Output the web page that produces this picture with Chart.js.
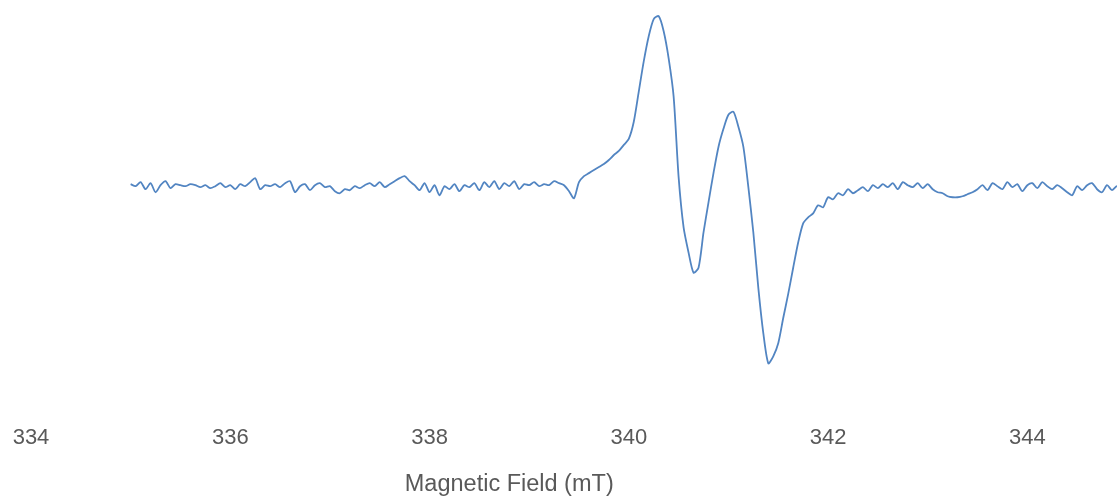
<!DOCTYPE html>
<html>
<head>
<meta charset="utf-8">
<script src="https://cdn.jsdelivr.net/npm/chart.js@4"></script>
<style>
  html, body { margin: 0; padding: 0; background: #fff; }
  #chart { display: block; }
</style>
</head>
<body>
<canvas id="chart" width="1117" height="498"></canvas>
<script>
// field sweep: first point and spacing (mT)
const fieldStart = 335.0;
const fieldStep = 0.05;

// EPR signal, arbitrary units (0 = baseline)
const signal = [
  3, 1, 5, -2, 4, -5, 2, 6, -1, 3,
  2, 1, 3, 2, 0, 2, -1, 1, 4, 0,
  2, -2, 3, 1, 5, 9, -2, 2, 1, 3,
  0, 4, 6, -5, 1, 3, -3, 2, 4, 0,
  1, -4, -6, -2, -3, 1, -1, 2, 4, 1,
  5, 0, 3, 6, 9, 11, 6, 2, -3, 4,
  -5, 2, -8, 1, -2, 3, -4, 2, 0, 4,
  -3, 5, 0, 6, -2, 4, 1, 6, -2, 3,
  2, 5, 1, 3, 2, 6, 4, 2, -4, -11,
  5, 11, 14, 17, 20, 23, 27, 32, 36, 42,
  48, 65, 95, 125, 150, 167, 170, 155, 128, 90,
  10, -40, -65, -85, -80, -45, -15, 14, 40, 58,
  72, 75, 60, 40, 0, -45, -100, -145, -175, -168,
  -155, -130, -106, -80, -55, -36, -30, -26, -18, -20,
  -10, -12, -6, -8, -2, -6, -3, 0, -4, 2,
  -1, 3, 0, 4, -2, 5, 2, 0, 4, -1,
  3, -2, -5, -6, -9, -10, -10, -9, -7, -5,
  -2, 2, -3, 4, 1, -2, 5, 0, 3, -4,
  2, 4, -1, 5, 1, -2, 2, -1, -5, -8,
  1, -3, 2, 4, -2, -5, 2, -3, 1, -4,
  0
];

const xTicks = [334, 336, 338, 340, 342, 344];
const xTitle = 'Magnetic Field (mT)';

const points = signal.map((v, i) => ({ x: +(fieldStart + i * fieldStep).toFixed(2), y: v }));

const textColor = '#595959';
const fontFamily = "'Liberation Sans', Arial, sans-serif";

// axis title sits off-centre in the original, drawn under the x scale
const xTitlePlugin = {
  id: 'xTitle',
  afterDraw(chart) {
    const ctx = chart.ctx;
    const xs = chart.scales.x;
    ctx.save();
    ctx.font = '23.5px ' + fontFamily;
    ctx.fillStyle = textColor;
    ctx.textAlign = 'center';
    ctx.textBaseline = 'middle';
    ctx.fillText(xTitle, xs.getPixelForValue(338.8), 485);
    ctx.restore();
  }
};

new Chart(document.getElementById('chart'), {
  type: 'line',
  data: {
    datasets: [{
      data: points,
      borderColor: '#5285c2',
      borderWidth: 1.8,
      pointRadius: 0,
      tension: 0.25,
      fill: false
    }]
  },
  options: {
    responsive: false,
    animation: false,
    layout: { padding: { left: 31, right: 0, top: 0, bottom: 37 } },
    plugins: { legend: { display: false }, tooltip: { enabled: false } },
    scales: {
      x: {
        type: 'linear',
        min: 334,
        max: 344.9,
        grid: { display: false },
        border: { display: false },
        afterBuildTicks: axis => { axis.ticks = xTicks.map(v => ({ value: v })); },
        ticks: {
          color: textColor,
          font: { family: fontFamily, size: 22 },
          maxRotation: 0,
          padding: 10
        }
      },
      y: {
        display: false,
        min: -218,
        max: 186
      }
    }
  },
  plugins: [xTitlePlugin]
});
</script>
</body>
</html>
